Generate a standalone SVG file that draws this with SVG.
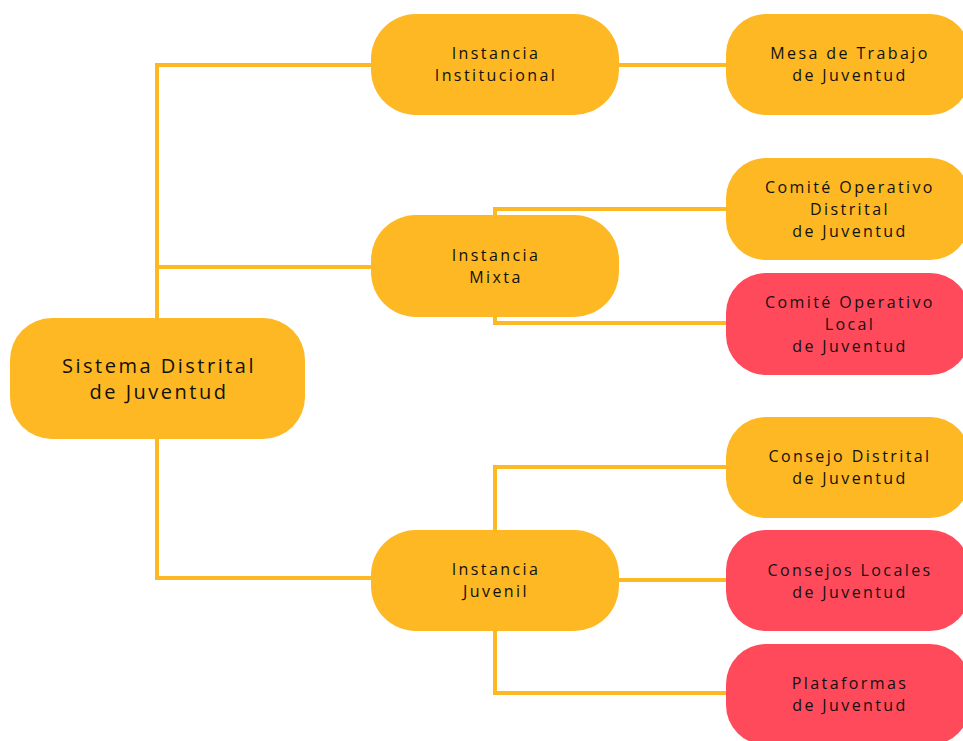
<svg xmlns="http://www.w3.org/2000/svg" width="963" height="741" viewBox="0 0 963 741">
<style>
.y{fill:#FDB823}
.r{fill:#FF4A5C}
.t{font-family:"Open Sans",Lato,sans-serif;font-size:16px;letter-spacing:2.4px;fill:#111;text-anchor:middle}
.big{font-size:20px;letter-spacing:2.5px}
.c{fill:none;stroke:#FDB823;stroke-width:4}
</style>
<rect width="963" height="741" fill="#fff"/>
<g id="connectors">
<path class="c" d="M157,318 V65 H371 M157,267 H371 M157,439 V578 H371"/>
<path class="c" d="M619,65 H726"/>
<path class="c" d="M495,215 V209 H726 M495,317 V323 H726"/>
<path class="c" d="M495,530 V467 H726 M619,580 H726 M495,631 V693 H726"/>
</g>
<g id="sistema"><rect class="y" x="10" y="318" width="295" height="121" rx="42"/>
<text class="t big" x="159" y="373">Sistema Distrital</text><text class="t big" x="159" y="399">de Juventud</text></g>
<g id="institucional"><rect class="y" x="371" y="14" width="248" height="101" rx="45"/>
<text class="t" x="496" y="59">Instancia</text><text class="t" x="496" y="81">Institucional</text></g>
<g id="mixta"><rect class="y" x="371" y="215" width="248" height="102" rx="45"/>
<text class="t" x="496" y="261">Instancia</text><text class="t" x="496" y="283">Mixta</text></g>
<g id="juvenil"><rect class="y" x="371" y="530" width="248" height="101" rx="45"/>
<text class="t" x="496" y="575">Instancia</text><text class="t" x="496" y="597">Juvenil</text></g>
<g id="mesa"><rect class="y" x="726" y="14" width="244" height="101" rx="40"/>
<text class="t" x="850" y="59">Mesa de Trabajo</text><text class="t" x="850" y="81">de Juventud</text></g>
<g id="comite-distrital"><rect class="y" x="726" y="158" width="244" height="102" rx="40"/>
<text class="t" x="850" y="193">Comité Operativo</text><text class="t" x="850" y="215">Distrital</text><text class="t" x="850" y="237">de Juventud</text></g>
<g id="comite-local"><rect class="r" x="726" y="273" width="244" height="102" rx="40"/>
<text class="t" x="850" y="308">Comité Operativo</text><text class="t" x="850" y="330">Local</text><text class="t" x="850" y="352">de Juventud</text></g>
<g id="consejo-distrital"><rect class="y" x="726" y="417" width="244" height="101" rx="40"/>
<text class="t" x="850" y="462">Consejo Distrital</text><text class="t" x="850" y="484">de Juventud</text></g>
<g id="consejos-locales"><rect class="r" x="726" y="530" width="244" height="101" rx="40"/>
<text class="t" x="850" y="576">Consejos Locales</text><text class="t" x="850" y="598">de Juventud</text></g>
<g id="plataformas"><rect class="r" x="726" y="644" width="244" height="101" rx="40"/>
<text class="t" x="850" y="689">Plataformas</text><text class="t" x="850" y="711">de Juventud</text></g>
</svg>
